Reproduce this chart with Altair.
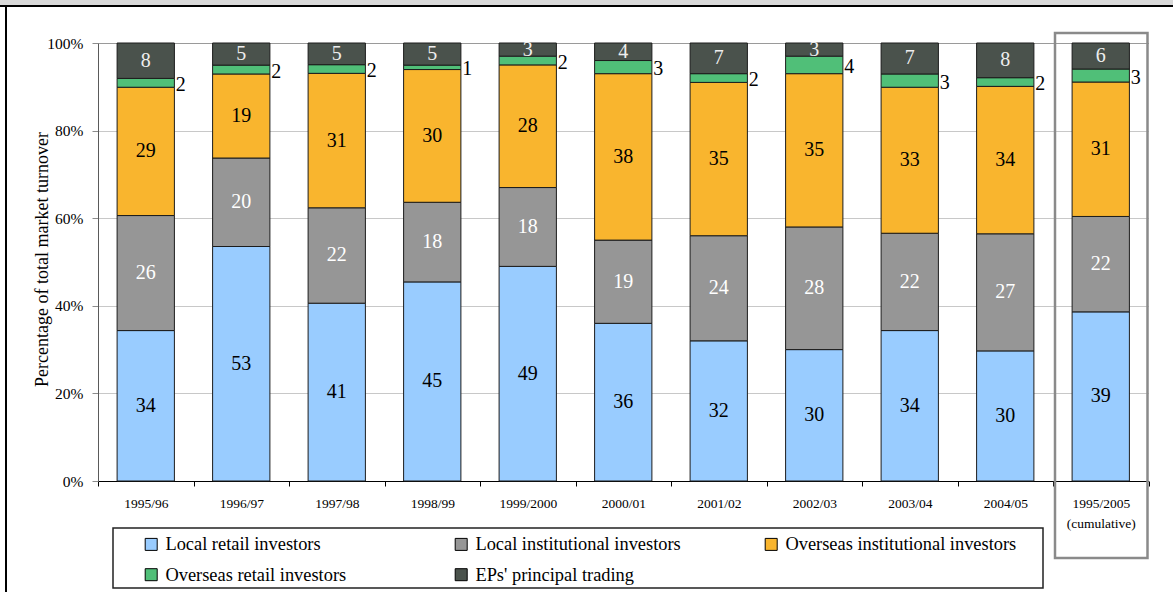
import altair as alt
import pandas as pd

# Share of total market turnover by investor type (%), one entry per period
periods = ["1995/96", "1996/97", "1997/98", "1998/99", "1999/2000", "2000/01",
           "2001/02", "2002/03", "2003/04", "2004/05", "1995/2005"]
groups = ["Local retail investors", "Local institutional investors",
          "Overseas institutional investors", "Overseas retail investors",
          "EPs' principal trading"]
colors = ["#99CCFF", "#969696", "#F9B52E", "#50BF78", "#4A524C"]
label_colors = ["#000000", "#FFFFFF", "#000000", "#000000", "#EEEEEE"]

local_retail = [34, 53, 41, 45, 49, 36, 32, 30, 34, 30, 39]
local_institutional = [26, 20, 22, 18, 18, 19, 24, 28, 22, 27, 22]
overseas_institutional = [29, 19, 31, 30, 28, 38, 35, 35, 33, 34, 31]
overseas_retail = [2, 2, 2, 1, 2, 3, 2, 4, 3, 2, 3]
ep_trading = [8, 5, 5, 5, 3, 4, 7, 3, 7, 8, 6]

series = [local_retail, local_institutional, overseas_institutional,
          overseas_retail, ep_trading]

SERIF = "'Liberation Serif', 'Times New Roman', Times, 'DejaVu Serif', serif"

# Stack each period's shares and normalise them to the full bar height
rows = []
for i, p in enumerate(periods):
    total = sum(s[i] for s in series)
    cum = 0
    for g, s, tc in zip(groups, series, label_colors):
        v = s[i]
        rows.append({"period": p, "group": g, "value": v,
                     "y0": cum / total, "y1": (cum + v) / total,
                     "mid": (cum + v / 2) / total, "tc": tc})
        cum += v
df = pd.DataFrame(rows)

W, H = 1050.5, 438
one = pd.DataFrame({"k": [0]})

x_enc = alt.X("period:N", sort=periods,
              scale=alt.Scale(domain=periods, paddingInner=0, paddingOuter=0),
              axis=alt.Axis(title=None, labelAngle=0, tickBand="extent",
                            domainColor="#000000", tickColor="#000000",
                            tickSize=5, labelFontSize=13.5, labelPadding=10,
                            labelLineHeight=20, grid=False,
                            labelExpr="datum.value == '1995/2005' ? ['1995/2005', '(cumulative)'] : datum.value"))

y_enc = alt.Y("y0:Q", scale=alt.Scale(domain=[0, 1], nice=False, zero=True),
              axis=alt.Axis(values=[0, 0.2, 0.4, 0.6, 0.8, 1.0], format=".0%",
                            title="Percentage of total market turnover",
                            titleFontSize=18, titleFontWeight="normal",
                            titleX=-56, titleY=216, titleAlign="center",
                            titleBaseline="middle", titleAngle=270,
                            labelFontSize=15.5, labelPadding=9, tickSize=6,
                            tickColor="#8c8c8c", domainColor="#5a5a5a",
                            gridColor=alt.condition("datum.value == 1",
                                                    alt.value("#9a9a9a"),
                                                    alt.value("#c8c8c8"))))

bars = alt.Chart(df).mark_bar(
    width=alt.RelativeBandSize(0.6), stroke="#1c1c1c", strokeWidth=1
).encode(
    x=x_enc,
    y=y_enc,
    y2="y1:Q",
    color=alt.Color("group:N",
                    scale=alt.Scale(domain=groups, range=colors),
                    legend=alt.Legend(title=None, orient="none", legendX=44,
                                      legendY=492, direction="horizontal",
                                      columns=3, gridAlign="all",
                                      columnPadding=55, rowPadding=11.5,
                                      symbolType="square", symbolSize=144,
                                      symbolStrokeColor="#000000",
                                      symbolStrokeWidth=1, labelFontSize=18.4,
                                      labelOffset=5, padding=0,
                                      labelLimit=400, labelFont=SERIF)),
)

inside = alt.Chart(df).transform_filter(
    "datum.group != 'Overseas retail investors'"
).mark_text(fontSize=20, baseline="middle", align="center", font=SERIF).encode(
    x=alt.X("period:N", sort=periods),
    y=alt.Y("mid:Q"),
    text=alt.Text("value:Q"),
    color=alt.Color("tc:N", scale=None),
)

outside = alt.Chart(df).transform_filter(
    "datum.group == 'Overseas retail investors'"
).mark_text(fontSize=20, baseline="middle", align="left", dx=30, dy=2,
            color="#000000", font=SERIF).encode(
    x=alt.X("period:N", sort=periods),
    y=alt.Y("mid:Q"),
    text=alt.Text("value:Q"),
)

# Page frame: grey band and black rules along the top and left
top_band = alt.Chart(one).mark_rect(color="#d9d9d9").encode(
    x=alt.value(-98), x2=alt.value(1075), y=alt.value(-43), y2=alt.value(-38))
top_rule = alt.Chart(one).mark_rule(color="#000000", strokeWidth=2).encode(
    x=alt.value(-98), x2=alt.value(1075), y=alt.value(-37))
left_rule = alt.Chart(one).mark_rule(color="#000000", strokeWidth=2).encode(
    x=alt.value(-92), y=alt.value(-37), y2=alt.value(549))

# Outline around the cumulative column and the legend
cum_box = alt.Chart(one).mark_rect(fill=None, stroke="#8a8a8a", strokeWidth=2.5).encode(
    x=alt.value(957), x2=alt.value(1049.5), y=alt.value(-10), y2=alt.value(515))
legend_box = alt.Chart(one).mark_rect(fill=None, stroke="#222222", strokeWidth=1.5).encode(
    x=alt.value(15), x2=alt.value(945), y=alt.value(485), y2=alt.value(545))

chart = alt.layer(
    top_band, top_rule, left_rule, bars, inside, outside, cum_box, legend_box
).properties(
    width=W, height=H,
    autosize=alt.AutoSizeParams(type="none"),
    padding={"left": 98, "top": 43, "right": 24.5, "bottom": 111},
).configure(
    font=SERIF, background="white"
).configure_view(
    stroke=None
).configure_axis(
    labelFont=SERIF, titleFont=SERIF,
    labelColor="#000000", titleColor="#000000"
).configure_legend(
    labelFont=SERIF, labelColor="#000000"
).configure_text(
    font=SERIF
)

chart.save("out.html", embed_options={"renderer": "svg", "actions": False})
